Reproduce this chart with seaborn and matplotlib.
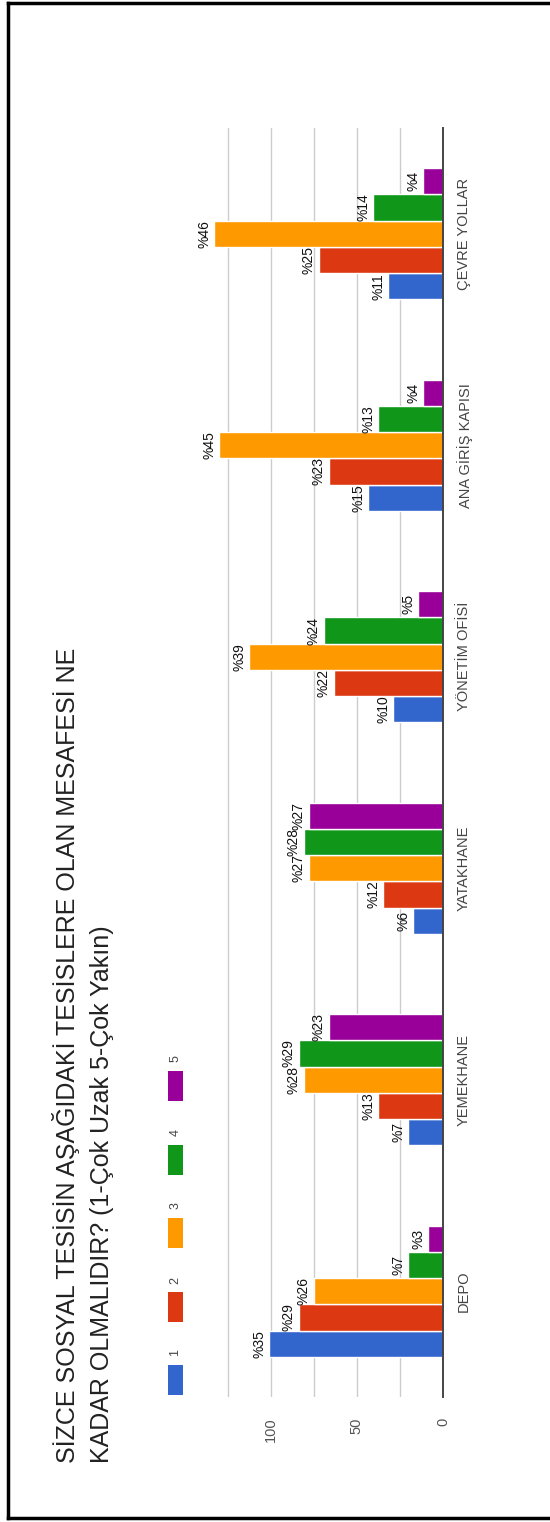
import matplotlib
matplotlib.use("Agg")
import matplotlib.pyplot as plt
from matplotlib.patches import Rectangle
from matplotlib.lines import Line2D
import seaborn as sns
import pandas as pd

# Survey answers: share of respondents per distance rating (1 = very far, 5 = very near)
categories = ["DEPO", "YEMEKHANE", "YATAKHANE", "YÖNETİM OFİSİ", "ANA GİRİŞ KAPISI", "ÇEVRE YOLLAR"]
levels = ["1", "2", "3", "4", "5"]
pct_1 = [35, 7, 6, 10, 15, 11]
pct_2 = [29, 13, 12, 22, 23, 25]
pct_3 = [26, 28, 27, 39, 45, 46]
pct_4 = [7, 29, 28, 24, 13, 14]
pct_5 = [3, 23, 27, 5, 4, 4]
respondents = 289
value_ticks = [0, 25, 50, 75, 100, 125]
value_tick_labels = ["0", "", "50", "", "100", ""]
title_lines = ["SİZCE SOSYAL TESİSİN AŞAĞIDAKİ TESİSLERE OLAN MESAFESİ NE",
               "KADAR OLMALIDIR? (1-Çok Uzak 5-Çok Yakın)"]

colors = ["#3366CC", "#DC3912", "#FF9900", "#109618", "#990099"]

rows = []
for lvl, series in zip(levels, [pct_1, pct_2, pct_3, pct_4, pct_5]):
    for cat, p in zip(categories, series):
        rows.append({"category": cat, "level": lvl, "pct": p,
                     "count": p * respondents / 100.0})
df = pd.DataFrame(rows)

W, H = 550, 1522
sns.set_theme(style="white")
plt.rcParams["font.family"] = ["Liberation Sans", "DejaVu Sans"]

fig = plt.figure(figsize=(W / 100, H / 100), dpi=100)


def fx(px):
    return px / W


def fy(py):
    return 1 - py / H


# plot area (the whole chart is laid out sideways, read bottom to top)
ax_left, ax_right, ax_top, ax_bottom = 202, 443, 128, 1397
ax = fig.add_axes([fx(ax_left), fy(ax_bottom), fx(ax_right) - fx(ax_left),
                   fy(ax_top) - fy(ax_bottom)])

sns.barplot(data=df, y="category", x="count", hue="level", order=categories,
            hue_order=levels, palette=colors, orient="h", width=0.62,
            edgecolor="white", linewidth=1.0, saturation=1, legend=False, ax=ax)

ax.set_ylim(-0.5, len(categories) - 0.5)
ax.set_xlim(140, 0)

ax.set_xticks(value_ticks)
ax.set_xticklabels(value_tick_labels, rotation=90, color="#555555", fontsize=10.5)
ax.tick_params(axis="x", length=0, pad=15)
for lbl in ax.get_xticklabels():
    lbl.set_va("top")
    lbl.set_ha("center")

ax.yaxis.tick_right()
ax.set_yticks(range(len(categories)))
ax.set_yticklabels(categories, rotation=90, color="#444444", fontsize=10.5)
ax.tick_params(axis="y", length=0, pad=10)
for lbl in ax.get_yticklabels():
    lbl.set_va("center")
    lbl.set_ha("left")

ax.set_xlabel("")
ax.set_ylabel("")
ax.grid(axis="x", color="#cccccc", linewidth=1)
ax.grid(axis="y", visible=False)
ax.set_axisbelow(True)
for side in ["left", "top", "bottom"]:
    ax.spines[side].set_visible(False)
ax.spines["right"].set_color("#444444")
ax.spines["right"].set_linewidth(1.4)
ax.set_facecolor("none")

# percentage labels at the end of each bar
for container, lvl in zip(ax.containers, levels):
    pcts = df[df["level"] == lvl].set_index("category").loc[categories, "pct"].tolist()
    ax.bar_label(container, labels=[f"%{p}" for p in pcts], padding=2,
                 rotation=90, fontsize=10, color="#111111",
                 family=["Liberation Sans Narrow", "Liberation Sans"])
for t in ax.texts:
    t.set_ha("right")
    t.set_va("center")

# title, two lines
fig.text(fx(66), fy(1463), title_lines[0], rotation=90, ha="center", va="bottom",
         fontsize=18, color="#222222")
fig.text(fx(102), fy(1463), title_lines[1], rotation=90, ha="center", va="bottom",
         fontsize=18, color="#222222")

# legend swatches with their labels
leg_centers = [1380, 1307, 1233, 1160, 1086]
for lvl, col, cy in zip(levels, colors, leg_centers):
    fig.patches.append(Rectangle((fx(168), fy(cy + 15)), fx(15), 30 / H,
                                 transform=fig.transFigure, facecolor=col,
                                 edgecolor="none"))
    fig.text(fx(175.5), fy(cy - 27), lvl, rotation=90, ha="center", va="center",
             fontsize=9, color="#444444")

# outer frame: left, top and bottom edges
frame = dict(transform=fig.transFigure, color="black", linewidth=2.5,
             solid_capstyle="projecting")
fig.lines.append(Line2D([fx(7.5), fx(7.5)], [fy(3), fy(1518)], **frame))
fig.lines.append(Line2D([fx(7.5), 1.0], [fy(3), fy(3)], **frame))
fig.lines.append(Line2D([fx(7.5), 1.0], [fy(1518), fy(1518)], **frame))

fig.savefig("out.png", dpi=100, facecolor="white")
